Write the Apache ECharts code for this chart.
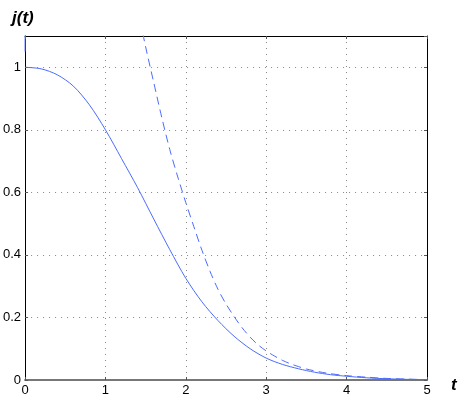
<!DOCTYPE html>
<html>
<head>
<meta charset="utf-8">
<script src="https://cdn.jsdelivr.net/npm/echarts@6/dist/echarts.min.js"></script>
<style>
  html, body { margin: 0; padding: 0; background: #fff; }
  #main { width: 466px; height: 400px; }
</style>
</head>
<body>
<div id="main"></div>
<script>
// valores
var xTicks = [0, 1, 2, 3, 4, 5];
var yTicks = [0, 0.2, 0.4, 0.6, 0.8, 1];

var tSolid = [0, 0.2, 0.4, 0.6, 0.8, 1.0, 1.2, 1.4, 1.6, 1.8, 2.0, 2.2, 2.4, 2.6, 2.8, 3.0, 3.2, 3.4, 3.6, 3.8, 4.0, 4.25, 4.5, 4.75, 5];
var jSolid = [1, 0.995, 0.976, 0.94, 0.88, 0.8, 0.708, 0.615, 0.515, 0.417, 0.325, 0.25, 0.19, 0.14, 0.1, 0.07, 0.05, 0.036, 0.025, 0.017, 0.012, 0.007, 0.004, 0.002, 0.001];

var tDash = [1.4, 1.5, 1.6, 1.7, 1.8, 1.9, 2.0, 2.1, 2.2, 2.3, 2.4, 2.5, 2.6, 2.7, 2.8, 2.9, 3.0, 3.1, 3.2, 3.3, 3.4, 3.5, 3.75, 4.0, 4.25, 4.5, 4.75, 5];
var jDash = [1.19, 1.065, 0.952, 0.84, 0.737, 0.649, 0.567, 0.49, 0.415, 0.348, 0.29, 0.243, 0.203, 0.167, 0.137, 0.112, 0.093, 0.077, 0.063, 0.052, 0.043, 0.035, 0.022, 0.014, 0.009, 0.005, 0.003, 0.001];

// trazo corto en t=0
var tDash0 = [0, 0.004];
var jDash0 = [1.05, 1.4];

const juntar = (xs, ys) => xs.map((x, i) => [x, ys[i]]);

var azul = '#4a6cff';
var gris = '#888';

var myChart = echarts.init(document.getElementById('main'));

var option = {
    animation: false,
    backgroundColor: '#fff',
    grid: { left: 23, top: 36, right: 39, bottom: 20, containLabel: false },
    xAxis: [{
        type: 'value', min: 0, max: 5, interval: 1,
        axisLine: { show: true, lineStyle: { color: '#777', width: 2 } },
        axisTick: { show: true, inside: true, length: 3, lineStyle: { color: '#555' } },
        axisLabel: { color: '#000', fontSize: 13, fontFamily: 'Liberation Sans', margin: 4 },
        splitLine: { show: true, lineStyle: { color: gris, type: [1, 5], width: 1 } }
    }, {
        type: 'value', min: 0, max: 5, interval: 1, position: 'top',
        axisLine: { show: true, onZero: false, lineStyle: { color: '#000', width: 1 } },
        axisTick: { show: true, inside: true, length: 3, lineStyle: { color: '#555' } },
        axisLabel: { show: false },
        splitLine: { show: false }
    }],
    yAxis: [{
        type: 'value', min: 0, max: 1.1, interval: 0.2,
        axisLine: { show: true, lineStyle: { color: '#000', width: 1 } },
        axisTick: { show: true, inside: true, length: 3, lineStyle: { color: '#555' } },
        axisLabel: { color: '#000', fontSize: 13, fontFamily: 'Liberation Sans', margin: 4, showMaxLabel: false },
        splitLine: { show: true, lineStyle: { color: gris, type: [1, 5], width: 1 } }
    }, {
        type: 'value', min: 0, max: 1.1, interval: 0.2, position: 'right',
        axisLine: { show: true, onZero: false, lineStyle: { color: '#000', width: 1 } },
        axisTick: { show: true, inside: true, length: 3, lineStyle: { color: '#555' } },
        axisLabel: { show: false },
        splitLine: { show: false }
    }],
    graphic: [
        { type: 'text', left: 12, top: 10,
          style: { text: 'j(t)', font: 'italic bold 17px "Liberation Sans"', fill: '#000' } },
        { type: 'text', left: 451, top: 377,
          style: { text: 't', font: 'italic bold 17px "Liberation Sans"', fill: '#000' } }
    ],
    series: [{
        type: 'line', data: juntar(tSolid, jSolid), smooth: 0.3, showSymbol: false,
        clip: true, lineStyle: { color: azul, width: 1 }
    }, {
        type: 'line', data: juntar(tDash, jDash), smooth: 0.3, showSymbol: false,
        clip: true, lineStyle: { color: azul, width: 1, type: [8, 5] }
    }, {
        type: 'line', data: juntar(tDash0, jDash0), showSymbol: false,
        clip: true, lineStyle: { color: azul, width: 1 }
    }]
};

myChart.setOption(option);
</script>
</body>
</html>
